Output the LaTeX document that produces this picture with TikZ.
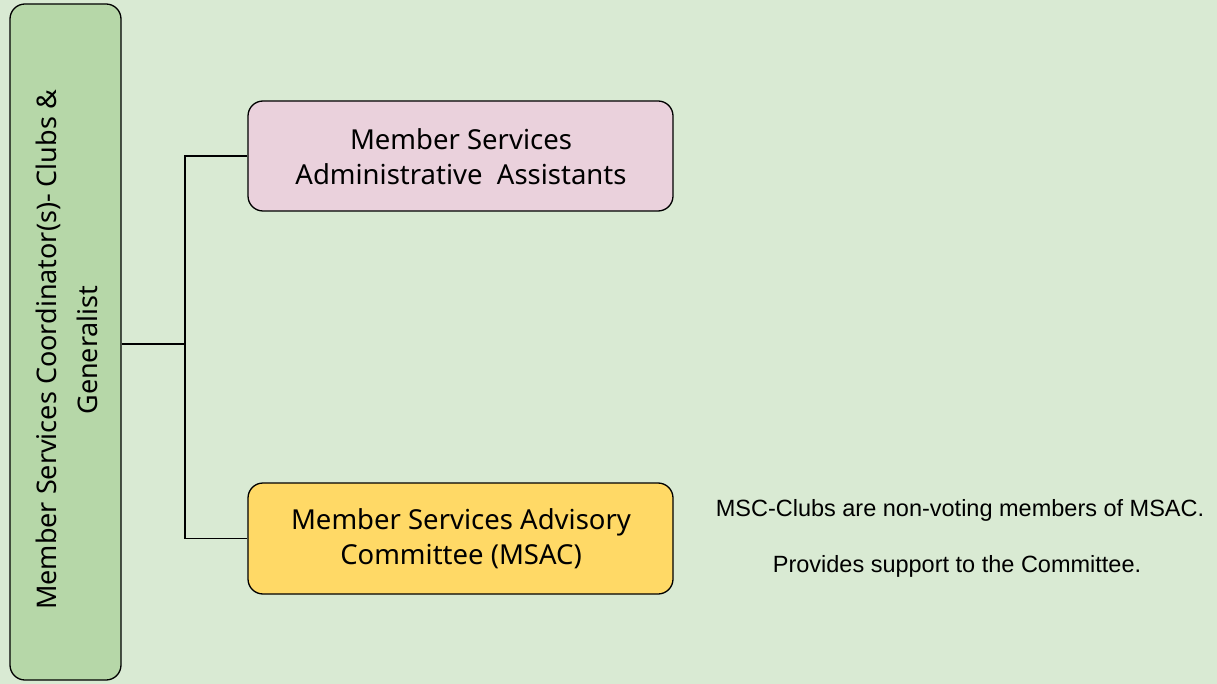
\documentclass[tikz,border=0pt]{standalone}
\usepackage{fontspec}
\setmainfont{Noto Sans}
\newfontfamily\arialf{Liberation Sans}
\definecolor{bg}{HTML}{D9EAD3}
\definecolor{gfill}{HTML}{B6D7A8}
\definecolor{pfill}{HTML}{EAD1DC}
\definecolor{yfill}{HTML}{FFD966}
\begin{document}
\begin{tikzpicture}[x=1pt,y=-1pt,
  box/.style={draw=black,line width=1.3pt,rounded corners=15pt,inner sep=0pt},
  lbl/.style={font=\fontsize{27.5}{35}\selectfont,align=center},
  vlbl/.style={font=\fontsize{27}{41}\selectfont,align=center,rotate=90},
  note/.style={font=\arialf\fontsize{23.5}{28}\selectfont},
  conn/.style={line width=1.3pt}]
\fill[bg] (0,0) rectangle (1217,684);
\useasboundingbox (0,0) rectangle (1217,684);
\node[box,fill=gfill,minimum width=111pt,minimum height=676pt] (coord) at (65.5,342) {};
\node[vlbl] (coordtext) at (67,350) {Member Services Coordinator(s)- Clubs \&\\Generalist};
\node[box,fill=pfill,minimum width=425pt,minimum height=110pt] (admin) at (460.5,156) {};
\node[lbl] (admintext) at (461,157) {Member Services\\Administrative\ \ Assistants};
\node[box,fill=yfill,minimum width=425pt,minimum height=111pt] (msac) at (460.5,538.5) {};
\node[lbl] (msactext) at (461,539) {Member Services Advisory\\Committee (MSAC)};
\coordinate (j) at (185,344);
\draw[conn] (coord.east |- j) -- (j);
\draw[conn] (admin.west) -| (j) |- (msac.west);
\node[note] (n1) at (960,510) {MSC-Clubs are non-voting members of MSAC.};
\node[note] (n2) at (957,566) {Provides support to the Committee.};
\end{tikzpicture}
\end{document}
